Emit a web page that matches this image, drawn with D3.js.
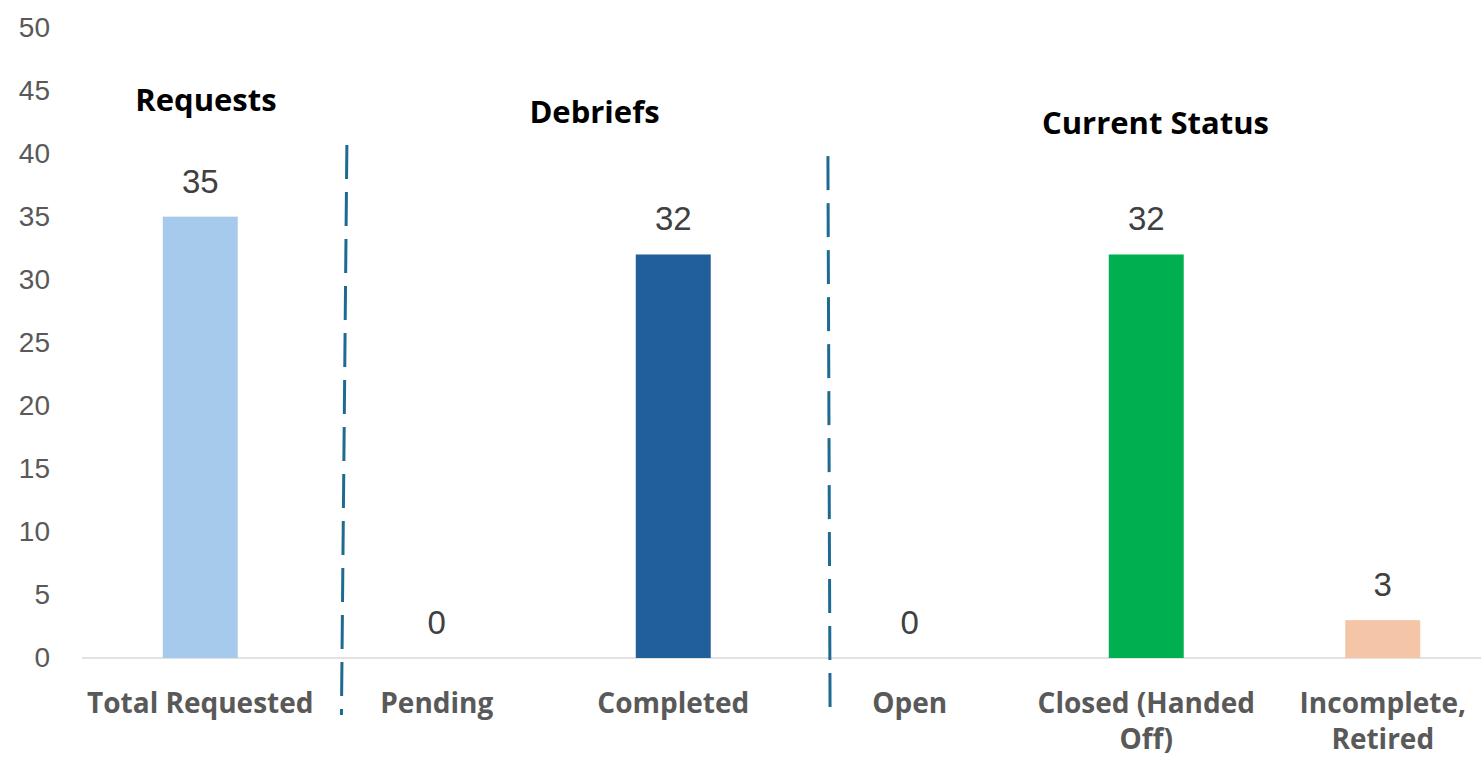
<!DOCTYPE html>
<html>
<head>
<meta charset="utf-8">
<script src="https://cdn.jsdelivr.net/npm/d3@7"></script>
<style>
  html, body { margin: 0; padding: 0; background: #ffffff; }
  svg { display: block; }
</style>
</head>
<body>
<svg id="chart" width="1481" height="758"></svg>
<script>
// ---- data ----
const categories = ["Total Requested", "Pending", "Completed", "Open", "Closed (Handed Off)", "Incomplete, Retired"];
const values = [35, 0, 32, 0, 32, 3];
const barColors = ["#a6caec", "#215f9a", "#215f9a", "#00b050", "#00b050", "#f5c5a8"];
const yTicks = [0, 5, 10, 15, 20, 25, 30, 35, 40, 45, 50];
const groupTitles = ["Requests", "Debriefs", "Current Status"];

// ---- layout ----
const W = 1481, H = 758;
const svg = d3.select("#chart");

const x = d3.scaleBand()
  .domain(categories)
  .range([82, 1501])
  .paddingInner(0.683)
  .paddingOuter(0.3415);

const y = d3.scaleLinear().domain([0, 50]).range([658, 27.5]);

// position helper in "category index" units (for annotations)
const xi = i => x.range()[0] + i * x.step();

// y axis labels
const yAxis = d3.axisLeft(y).tickValues(yTicks).tickSize(0).tickPadding(0);
const gy = svg.append("g").attr("transform", "translate(50,0)").call(yAxis);
gy.select(".domain").remove();
gy.selectAll("text")
  .attr("fill", "#595959")
  .style("font-family", "'Liberation Sans', Arial, sans-serif")
  .style("font-size", "28px");

// baseline
svg.append("line")
  .attr("x1", 82).attr("x2", W)
  .attr("y1", y(0)).attr("y2", y(0))
  .attr("stroke", "#d9d9d9").attr("stroke-width", 1.5);

// bars
svg.append("g").selectAll("rect")
  .data(categories)
  .join("rect")
  .attr("x", d => x(d))
  .attr("width", x.bandwidth())
  .attr("y", (d, i) => y(values[i]))
  .attr("height", (d, i) => y(0) - y(values[i]))
  .attr("fill", (d, i) => barColors[i]);

// value labels
svg.append("g").selectAll("text")
  .data(categories)
  .join("text")
  .attr("x", d => x(d) + x.bandwidth() / 2)
  .attr("y", (d, i) => y(values[i]) - 24)
  .attr("text-anchor", "middle")
  .attr("fill", "#404040")
  .style("font-family", "'Liberation Sans', Arial, sans-serif")
  .style("font-size", "33px")
  .text((d, i) => values[i]);

// x axis category labels
const xAxis = d3.axisBottom(x).tickSize(0).tickPadding(0);
const gx = svg.append("g").attr("transform", `translate(0,${y(0)})`).call(xAxis);
gx.select(".domain").remove();
const labelFont = "'Open Sans', 'Noto Sans', sans-serif";
gx.selectAll("text")
  .attr("fill", "#595959")
  .attr("dy", null)
  .attr("y", 0)
  .style("font-family", labelFont)
  .style("font-size", "28px")
  .style("font-weight", "700")
  .each(function (d) {
    const t = d3.select(this);
    const words = d.split(" ");
    t.text(null);
    const maxW = x.step() + 2;
    let lines = [];
    let cur = [];
    const probe = t.append("tspan");
    words.forEach(w => {
      const test = cur.concat([w]).join(" ");
      probe.text(test);
      if (probe.node().getComputedTextLength() > maxW && cur.length) {
        lines.push(cur.join(" "));
        cur = [w];
      } else {
        cur.push(w);
      }
    });
    lines.push(cur.join(" "));
    probe.remove();
    lines.forEach((ln, k) => {
      t.append("tspan")
        .attr("x", 0)
        .attr("y", 55 + k * 36)
        .text(ln);
    });
  });

// group divider lines (dashed)
const dividers = [
  { i1: 1.12, v1: 40.68, i2: 1.097, v2: -4.52 },
  { i1: 3.154, v1: 39.8, i2: 3.163, v2: -3.89 }
];
svg.append("g").selectAll("line")
  .data(dividers)
  .join("line")
  .attr("x1", d => xi(d.i1)).attr("y1", d => y(d.v1))
  .attr("x2", d => xi(d.i2)).attr("y2", d => y(d.v2))
  .attr("stroke", "#1e6a92")
  .attr("stroke-width", 3)
  .attr("stroke-dasharray", "34 13");

// group titles
const titlePos = [
  { i: 0.524, v: 43.4 },
  { i: 2.167, v: 42.4 },
  { i: 4.539, v: 41.53 }
];
svg.append("g").selectAll("text")
  .data(groupTitles)
  .join("text")
  .attr("x", (d, k) => xi(titlePos[k].i))
  .attr("y", (d, k) => y(titlePos[k].v))
  .attr("text-anchor", "middle")
  .attr("fill", "#000000")
  .style("font-family", labelFont)
  .style("font-size", "31px")
  .style("font-weight", "700")
  .text(d => d);
</script>
</body>
</html>
